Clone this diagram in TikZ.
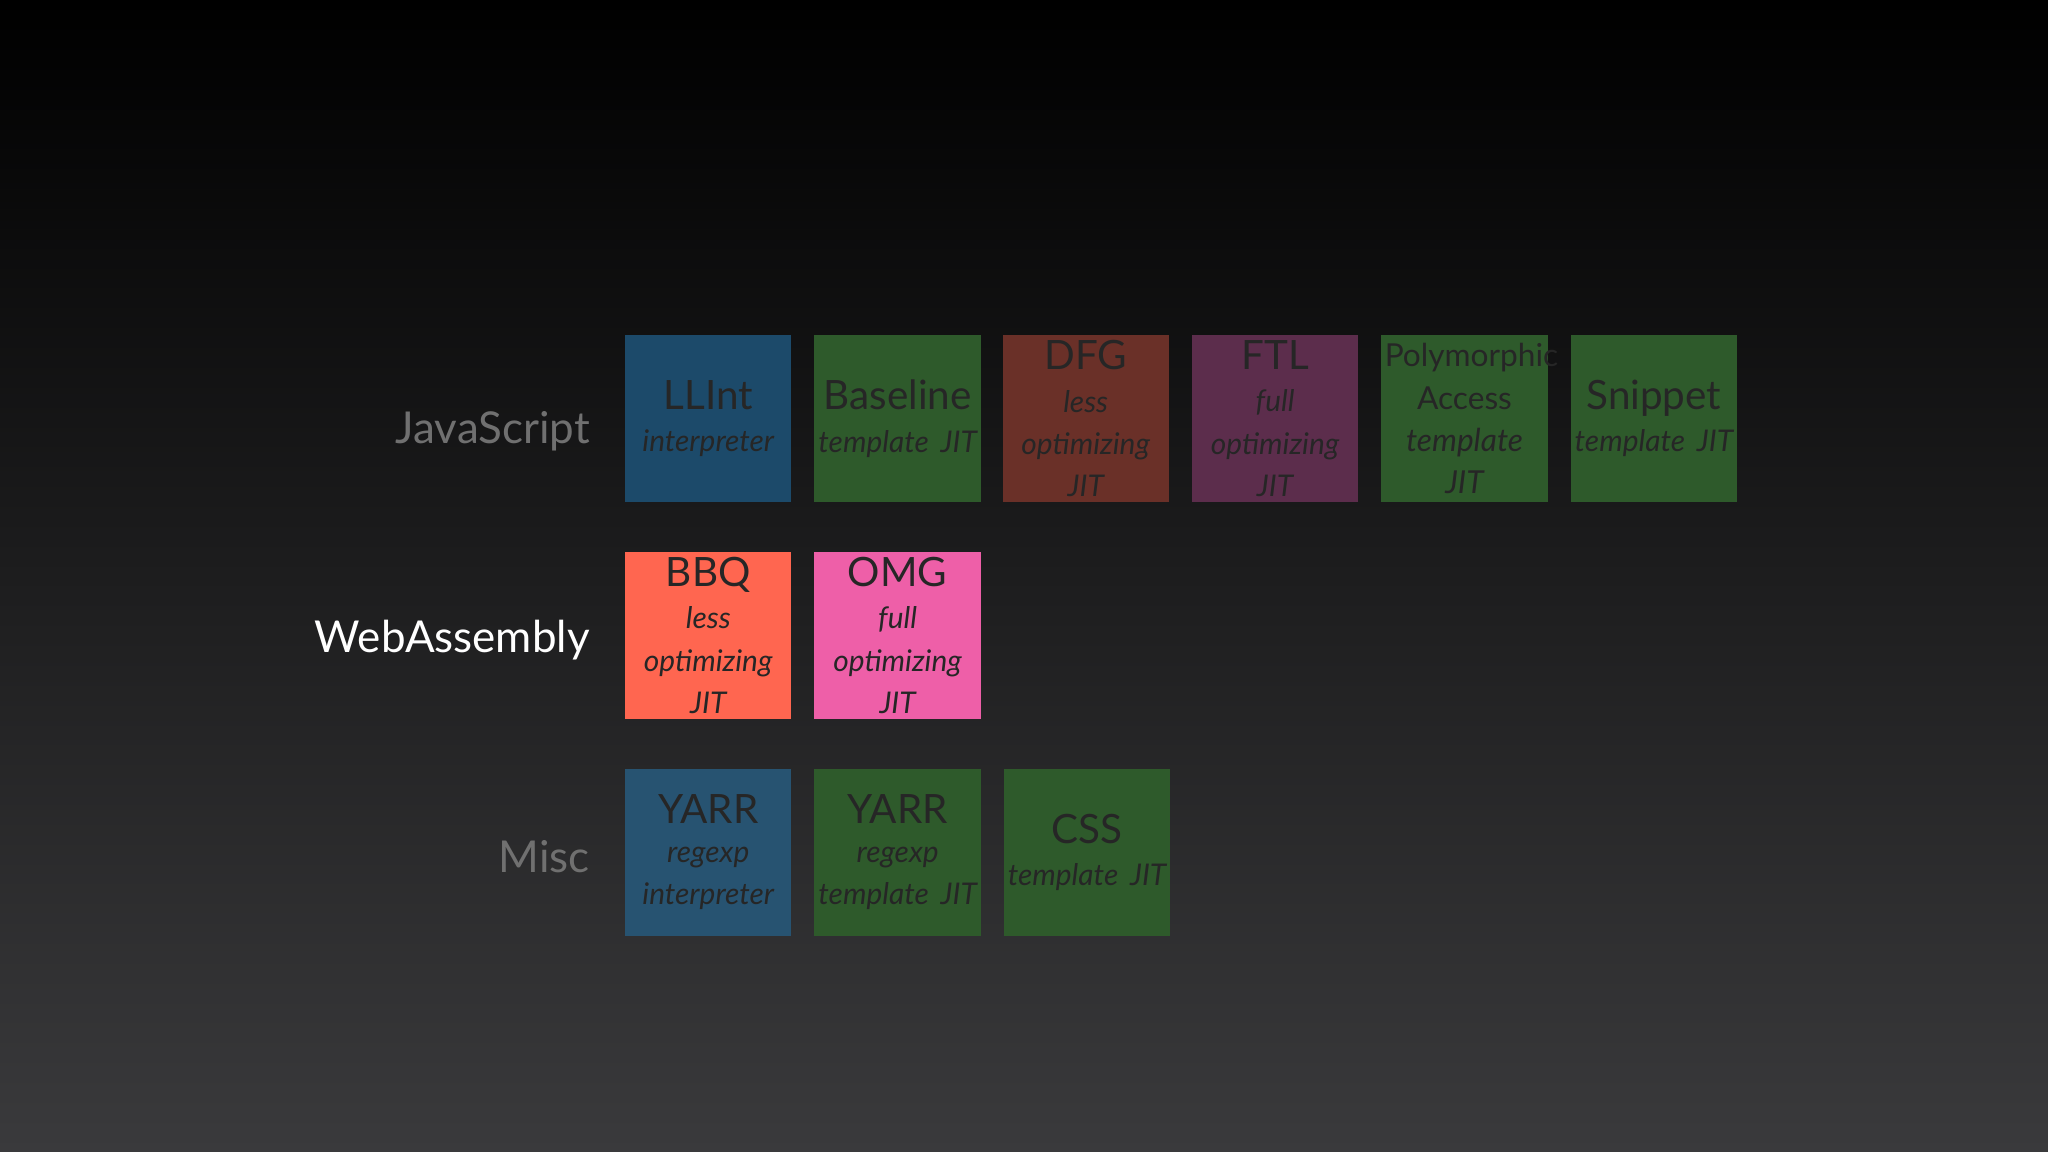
\documentclass[tikz,border=0pt]{standalone}
\usepackage{fontspec}
\setmainfont{Lato}
\newcommand{\Tt}{\fontsize{11.5}{13}\selectfont}
\newcommand{\Ss}{\fontsize{8.5}{11}\selectfont\itshape}
\begin{document}
\begin{tikzpicture}[x=0.013061cm,y=-0.013061cm,
  box/.style={minimum width=1.594cm,minimum height=1.672cm,inner sep=1pt,align=center,text width=1.594cm,anchor=north west,text=black!85},
  lbl/.style={anchor=east,font=\fontsize{12.5}{14}\selectfont}]
\fill[top color=black,bottom color={rgb,255:red,58;green,58;blue,60}] (0,0) rectangle (1568,882);
\useasboundingbox (0,0) rectangle (1568,882);
\definecolor{bl}{HTML}{1C4A6A}\definecolor{gr}{HTML}{2E5A2B}
\definecolor{rd}{HTML}{6A3028}\definecolor{pu}{HTML}{5C2D4C}
\definecolor{or}{HTML}{FF6650}\definecolor{pk}{HTML}{EE5FA8}
\node[lbl,text={rgb,255:red,112;green,112;blue,112}] (js) at (461,330) {JavaScript};
\node[lbl,text=white] (wa) at (461,490) {WebAssembly};
\node[lbl,text={rgb,255:red,112;green,112;blue,112}] (mi) at (461,656) {Misc};
\node[box,fill=bl] (ll) at (478,256) {{\Tt LLInt}\\{\Ss interpreter}};
\node[box,fill=gr] (ba) at (623,256) {{\Tt Baseline}\\{\Ss template JIT}};
\node[box,fill=rd] (df) at (767,256) {{\Tt DFG}\\{\Ss less optimizing JIT}};
\node[box,fill=pu] (ft) at (912,256) {{\Tt FTL}\\{\Ss full optimizing JIT}};
\node[box,fill=gr] (po) at (1057,256) {{\fontsize{9}{13.5}\selectfont Polymorphic\\Access}\\{\fontsize{9}{11}\selectfont\itshape template JIT}};
\node[box,fill=gr] (sn) at (1202,256) {{\Tt Snippet}\\{\Ss template JIT}};
\node[box,fill=or] (bb) at (478,422) {{\Tt BBQ}\\{\Ss less optimizing JIT}};
\node[box,fill=pk] (om) at (623,422) {{\Tt OMG}\\{\Ss full optimizing JIT}};
\node[box,fill=bl!95!white] (y1) at (478,588) {{\Tt YARR}\\{\Ss regexp\\interpreter}};
\node[box,fill=gr] (y2) at (623,588) {{\Tt YARR}\\{\Ss regexp\\template JIT}};
\node[box,fill=gr] (cs) at (768,588) {{\Tt CSS}\\{\Ss template JIT}};
\end{tikzpicture}
\end{document}
